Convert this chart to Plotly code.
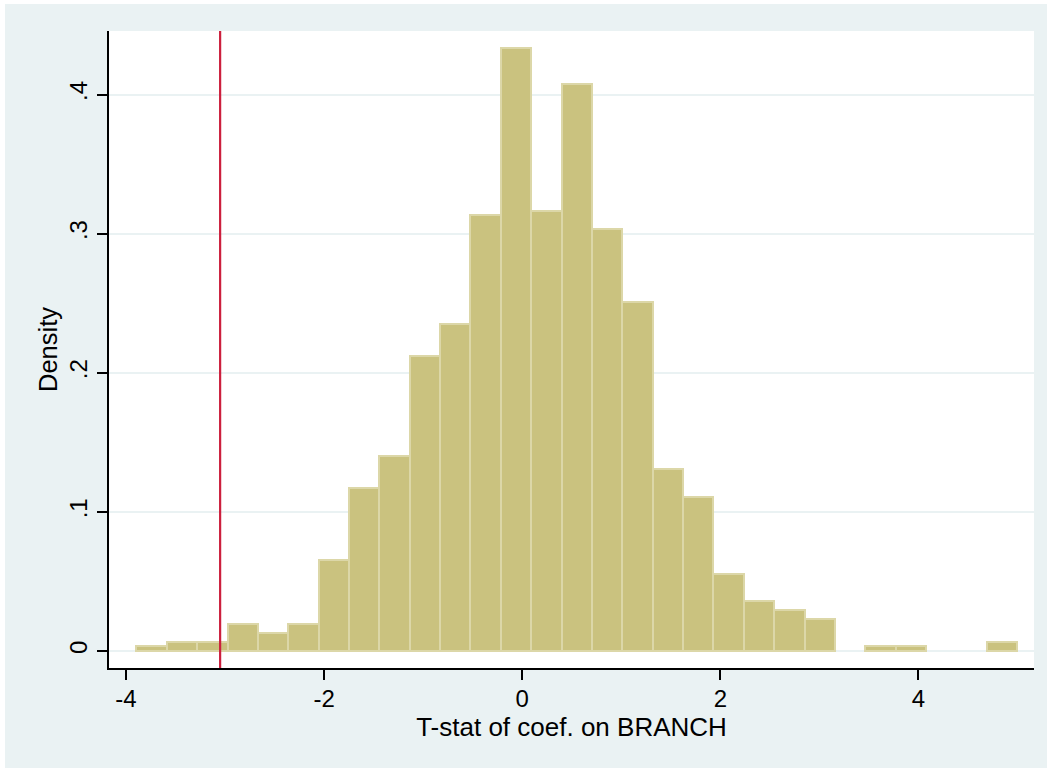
import plotly.graph_objects as go

# Histogram bins (Stata-style density histogram)
bin_start = -3.895
bin_width = 0.3066
densities = [0.0033, 0.0065, 0.0065, 0.0196, 0.0130, 0.0196, 0.0652, 0.1174,
             0.1403, 0.2120, 0.2349, 0.3131, 0.4338, 0.3164, 0.4077, 0.3033,
             0.2512, 0.1305, 0.1109, 0.0555, 0.0359, 0.0294, 0.0228, 0.0,
             0.0033, 0.0033, 0.0, 0.0, 0.0065]
ref_line_x = -3.05

x_ticks = [-4, -2, 0, 2, 4]
x_ticktext = ["-4", "-2", "0", "2", "4"]
y_ticks = [0, 0.1, 0.2, 0.3, 0.4]
y_ticktext = ["0", ".1", ".2", ".3", ".4"]

x_title = "T-stat of coef. on BRANCH"
y_title = "Density"

centers = [bin_start + (i + 0.5) * bin_width for i in range(len(densities))]
bar_y = [d if d > 0 else None for d in densities]

FONT = "Liberation Sans, Arial, Helvetica, sans-serif"
BG = "#EAF2F3"

fig = go.Figure()
fig.add_trace(go.Bar(
    x=centers, y=bar_y, width=bin_width,
    marker=dict(color="#CAC27F", line=dict(color="#DCD7A8", width=2)),
    hoverinfo="x+y", showlegend=False,
))

W, H = 1047, 768
L, R, T, B = 109, 13, 31, 100
pw, ph = W - L - R, H - T - B

shapes = [
    dict(type="line", xref="x", yref="paper", x0=ref_line_x, x1=ref_line_x,
         y0=0, y1=1, line=dict(color="#CC1F3D", width=2.2), layer="above"),
    # thin white frame strips at top and left edges of the image
    dict(type="rect", xref="paper", yref="paper",
         x0=-L / pw, x1=(5 - L) / pw, y0=-B / ph, y1=(H - B) / ph + 0.01,
         fillcolor="white", line=dict(width=0), layer="below"),
    dict(type="rect", xref="paper", yref="paper",
         x0=-L / pw, x1=1 + R / pw, y0=(H - B - 4) / ph, y1=(H - B) / ph + 0.01,
         fillcolor="white", line=dict(width=0), layer="below"),
]

fig.update_layout(
    width=W, height=H,
    margin=dict(l=L, r=R, t=T, b=B, pad=0),
    paper_bgcolor=BG, plot_bgcolor="white",
    bargap=0,
    font=dict(family=FONT, color="black", size=24),
    shapes=shapes,
    xaxis=dict(
        range=[-4.172, 5.167], tickvals=x_ticks, ticktext=x_ticktext,
        showgrid=False, zeroline=False,
        showline=True, linecolor="black", linewidth=1.5,
        ticks="outside", ticklen=10, tickwidth=1.5, tickcolor="black",
        tickfont=dict(size=24), ticklabelstandoff=-2,
        title=dict(text=x_title, font=dict(size=26), standoff=0),
    ),
    yaxis=dict(
        range=[-0.0122, 0.4457], tickvals=y_ticks, ticktext=y_ticktext,
        showgrid=True, gridcolor=BG, gridwidth=1.5, zeroline=False,
        showline=True, linecolor="black", linewidth=1.5,
        ticks="outside", ticklen=10, tickwidth=1.5, tickcolor="black",
        tickangle=-90, tickfont=dict(size=24), ticklabelstandoff=1,
        title=dict(text=y_title, font=dict(size=25.5), standoff=0),
    ),
)

fig.write_html("out.html", config={"displayModeBar": False},
               post_script="document.body.style.margin='0px';")
